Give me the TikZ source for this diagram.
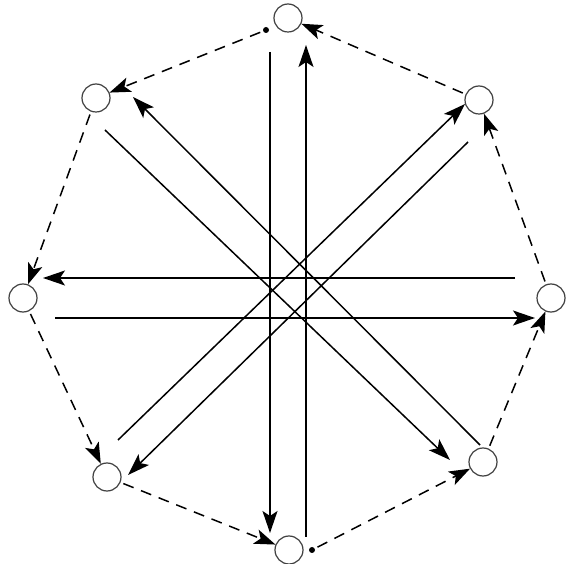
\documentclass[tikz,border=0pt]{standalone}
\usetikzlibrary{arrows.meta}
\begin{document}
\begin{tikzpicture}[x=1pt,y=-1pt,
  vert/.style={circle,draw=black!75,line width=1.2pt,minimum size=28pt,inner sep=0pt,fill=white},
  solidarrow/.style={line width=1.5pt,-{Stealth[length=22pt,width=15pt,inset=5pt]}},
  dasharrow/.style={line width=1.5pt,dash pattern=on 11pt off 8pt,-{Stealth[length=21pt,width=15pt,inset=5pt]},shorten <=3pt},
  smalldot/.style={circle,fill=black,inner sep=0pt,minimum size=6pt}]
\useasboundingbox (0,0) rectangle (566,564);
% nodes
\node[vert] (T)  at (288,18) {};
\node[vert] (TR) at (479,100) {};
\node[vert] (R)  at (551,298) {};
\node[vert] (BR) at (483,462) {};
\node[vert] (B)  at (289,550) {};
\node[vert] (BL) at (107,477) {};
\node[vert] (L)  at (23,298) {};
\node[vert] (TL) at (96,98) {};
% small dots
\node[smalldot] (dt) at (266,30) {};
\node[smalldot] (db) at (312,550) {};
% dashed cycle
\draw[dasharrow] (dt) -- (TL);
\draw[dasharrow] (TL) -- (L);
\draw[dasharrow] (L) -- (BL);
\draw[dasharrow] (BL) -- (B);
\draw[dasharrow] (db) -- (BR);
\draw[dasharrow] (BR) -- (R);
\draw[dasharrow] (R) -- (TR);
\draw[dasharrow] (TR) -- (T);
% endpoints of solid arrows
\coordinate (v1s) at (270,52);  \coordinate (v1e) at (270,533);
\coordinate (v2s) at (306,537); \coordinate (v2e) at (306,45);
\coordinate (h1s) at (515,278); \coordinate (h1e) at (43,278);
\coordinate (h2s) at (55,318);  \coordinate (h2e) at (535,318);
\coordinate (d1s) at (105,130); \coordinate (d1e) at (450,460);
\coordinate (d2s) at (480,445); \coordinate (d2e) at (133,97);
\coordinate (d3s) at (118,440); \coordinate (d3e) at (465,104);
\coordinate (d4s) at (468,142); \coordinate (d4e) at (128,475);
\draw[solidarrow] (v1s) -- (v1e);
\draw[solidarrow] (v2s) -- (v2e);
\draw[solidarrow] (h1s) -- (h1e);
\draw[solidarrow] (h2s) -- (h2e);
\draw[solidarrow] (d1s) -- (d1e);
\draw[solidarrow] (d2s) -- (d2e);
\draw[solidarrow] (d3s) -- (d3e);
\draw[solidarrow] (d4s) -- (d4e);
\end{tikzpicture}
\end{document}
